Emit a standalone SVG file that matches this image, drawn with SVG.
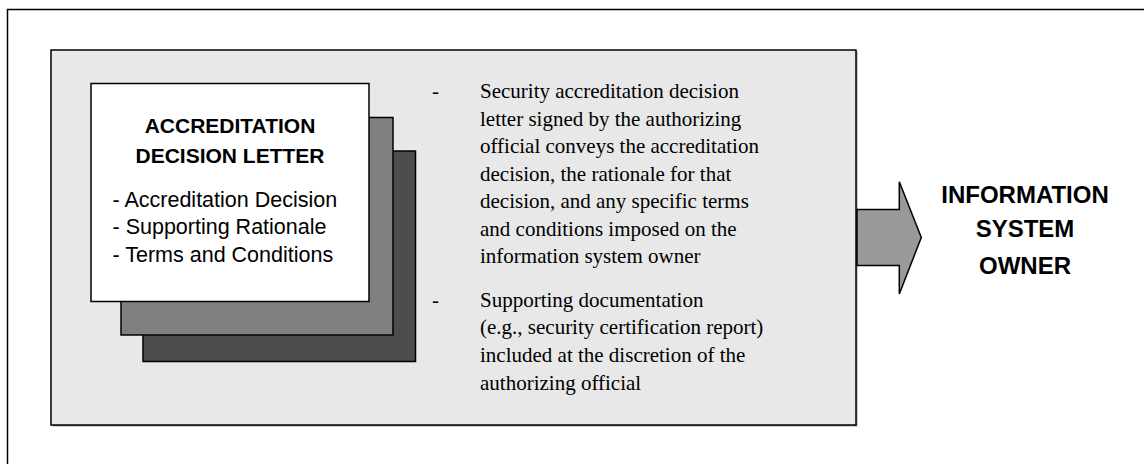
<svg xmlns="http://www.w3.org/2000/svg" width="1144" height="464" viewBox="0 0 1144 464">
<style>
.bd{stroke:#000;stroke-width:1.5}
.sans{font-family:"Liberation Sans",Arial,sans-serif;fill:#000}
.serif{font-family:"Liberation Serif","Times New Roman",serif;font-size:21px;fill:#000}
.hd{font-size:21px;font-weight:bold;text-anchor:middle}
.li{font-size:21.5px}
.own{font-size:24px;font-weight:bold;text-anchor:middle}
</style>
<g id="frame">
<rect x="7.5" y="9.5" width="1150" height="470" fill="#fff" class="bd"/>
</g>
<g id="panel">
<rect x="52.5" y="51.5" width="805" height="375" fill="#9a9a9a" stroke="none"/>
<rect x="51" y="50" width="805" height="375" fill="#e8e8e8" class="bd"/>
</g>
<g id="stack">
<rect x="143" y="151" width="272.5" height="210.5" fill="#4d4d4d" class="bd"/>
<rect x="121" y="117.5" width="272" height="217.5" fill="#808080" class="bd"/>
</g>
<g id="letter">
<rect x="91" y="83.5" width="278" height="218" fill="#fff" class="bd"/>
<text class="sans hd" x="230" y="132.5">ACCREDITATION</text>
<text class="sans hd" x="230" y="162.5">DECISION LETTER</text>
<text class="sans li" x="112.5" y="206.5">- Accreditation Decision</text>
<text class="sans li" x="112.5" y="234.3">- Supporting Rationale</text>
<text class="sans li" x="112.5" y="262.2">- Terms and Conditions</text>
</g>
<g id="notes">
<text class="serif" x="432" y="98.3">-</text>
<text class="serif" x="480" y="98.3">Security accreditation decision</text>
<text class="serif" x="480" y="125.8">letter signed by the authorizing</text>
<text class="serif" x="480" y="153.3">official conveys the accreditation</text>
<text class="serif" x="480" y="180.8">decision, the rationale for that</text>
<text class="serif" x="480" y="208.3">decision, and any specific terms</text>
<text class="serif" x="480" y="235.8">and conditions imposed on the</text>
<text class="serif" x="480" y="263">information system owner</text>
<text class="serif" x="432" y="306.7">-</text>
<text class="serif" x="480" y="306.7">Supporting documentation</text>
<text class="serif" x="480" y="334.3">(e.g., security certification report)</text>
<text class="serif" x="480" y="361.8">included at the discretion of the</text>
<text class="serif" x="480" y="389.5">authorizing official</text>
</g>
<g id="connectors">
<path d="M857 209.5 H899.3 V181.7 L921.3 237.5 L899.3 294 V265.5 H857 Z" fill="#999" class="bd" stroke-linejoin="miter"/>
</g>
<g id="owner">
<text class="sans own" x="1025" y="203.3">INFORMATION</text>
<text class="sans own" x="1025" y="237">SYSTEM</text>
<text class="sans own" x="1025" y="274.3">OWNER</text>
</g>
</svg>
